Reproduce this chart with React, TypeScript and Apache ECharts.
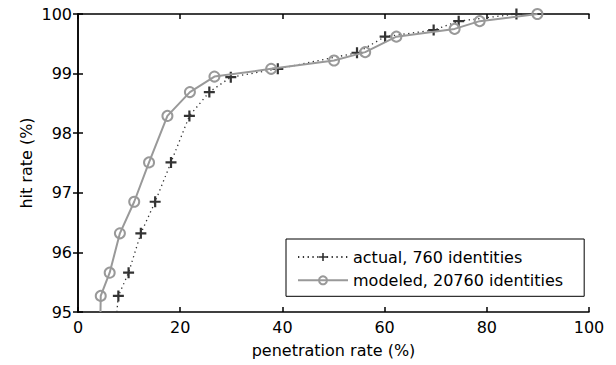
import React, { useEffect, useRef } from "react";
import * as echarts from "echarts";

const actualX = [7.6, 7.9, 9.9, 12.3, 15.1, 18.2, 21.8, 25.7, 29.9, 39.1, 54.6, 60.1, 69.6, 74.5, 85.8];
const actualY = [95.0, 95.27, 95.66, 96.32, 96.85, 97.51, 98.29, 98.69, 98.94, 99.08, 99.35, 99.62, 99.73, 99.88, 100.0];
const modeledX = [4.4, 4.45, 6.2, 8.2, 11.0, 13.9, 17.5, 21.9, 26.7, 37.8, 50.1, 56.2, 62.3, 73.7, 78.6, 89.9];
const modeledY = [95.0, 95.27, 95.66, 96.32, 96.85, 97.51, 98.29, 98.69, 98.95, 99.08, 99.22, 99.36, 99.62, 99.75, 99.88, 100.0];

const xTicks = { min: 0, max: 100, interval: 20 };
const yTicks = { min: 95, max: 100, interval: 1 };

const FONT = "DejaVu Sans";
const PLUS = "path://M4,0H6V4H10V6H6V10H4V6H0V4H4Z";

export default function App() {
  const ref = useRef<HTMLDivElement>(null);
  useEffect(() => {
    if (!ref.current) return;
    const chart = echarts.init(ref.current, null, { renderer: "svg" });
    const mk = (xs: number[], ys: number[]) =>
      xs.map((x, i) => (i === 0 ? { value: [x, ys[i]], symbol: "none" } : { value: [x, ys[i]] }));
    const axisLine = { show: true, lineStyle: { color: "#000", width: 1.5 } };
    const tick = { show: true, inside: true, length: 5, lineStyle: { color: "#000", width: 1.5 } };
    chart.setOption({
      animation: false,
      backgroundColor: "#fff",
      textStyle: { fontFamily: FONT },
      grid: { left: 78, right: 27, top: 14, bottom: 53 },
      legend: {
        orient: "vertical",
        left: 286,
        top: 239,
        padding: [10, 21, 8, 11],
        itemWidth: 50,
        itemHeight: 10,
        itemGap: 7.3,
        borderColor: "#000",
        borderWidth: 1,
        backgroundColor: "#fff",
        textStyle: { fontFamily: FONT, fontSize: 16, color: "#000" },
        data: ["actual, 760 identities", "modeled, 20760 identities"],
      },
      xAxis: [
        {
          type: "value",
          ...xTicks,
          position: "bottom",
          name: "penetration rate (%)",
          nameLocation: "middle",
          nameGap: 30,
          nameTextStyle: { fontFamily: FONT, fontSize: 16, color: "#000" },
          axisLine,
          axisTick: tick,
          axisLabel: { fontFamily: FONT, fontSize: 16, color: "#000", margin: 7 },
          splitLine: { show: false },
        },
        {
          type: "value",
          ...xTicks,
          position: "top",
          axisLine,
          axisTick: tick,
          axisLabel: { show: false },
          splitLine: { show: false },
        },
      ],
      yAxis: [
        {
          type: "value",
          ...yTicks,
          position: "left",
          name: "hit rate (%)",
          nameLocation: "middle",
          nameGap: 44,
          nameMoveOverlap: false,
          nameTextStyle: { fontFamily: FONT, fontSize: 16, color: "#000" },
          axisLine,
          axisTick: tick,
          axisLabel: { fontFamily: FONT, fontSize: 16, color: "#000", margin: 6 },
          splitLine: { show: false },
        },
        {
          type: "value",
          ...yTicks,
          position: "right",
          axisLine,
          axisTick: tick,
          axisLabel: { show: false },
          splitLine: { show: false },
        },
      ],
      series: [
        {
          name: "actual, 760 identities",
          type: "line",
          xAxisIndex: 0,
          yAxisIndex: 0,
          data: mk(actualX, actualY),
          symbol: PLUS,
          symbolSize: 11,
          lineStyle: { color: "#333", width: 1.3, type: [1.3, 3.5] },
          itemStyle: { color: "#333" },
          clip: true,
          z: 2,
        },
        {
          name: "modeled, 20760 identities",
          type: "line",
          xAxisIndex: 0,
          yAxisIndex: 0,
          data: mk(modeledX, modeledY),
          symbol: "circle",
          symbolSize: 10,
          lineStyle: { color: "#999", width: 2 },
          itemStyle: { color: "none", borderColor: "#999", borderWidth: 2 },
          clip: true,
          z: 3,
        },
      ],
    });
    return () => chart.dispose();
  }, []);
  return (
    <div
      ref={ref}
      style={{ position: "absolute", left: 0, top: 0, width: 616, height: 365, background: "#fff" }}
    />
  );
}
